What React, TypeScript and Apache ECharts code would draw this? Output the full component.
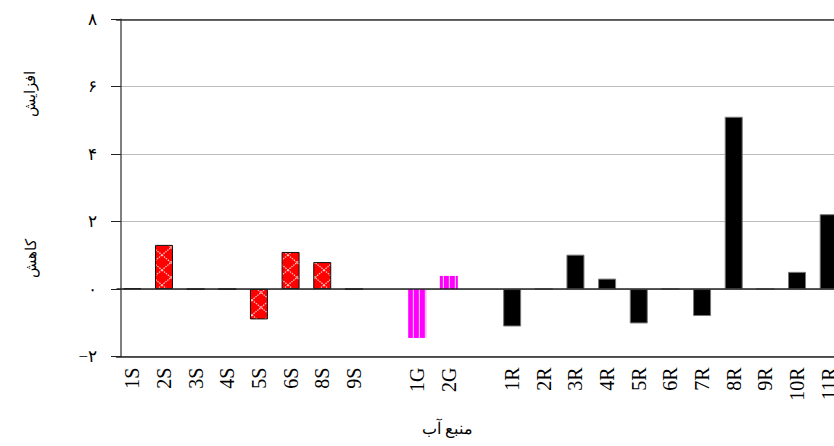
import React, { useEffect, useRef } from 'react';
import * as echarts from 'echarts';

// Water-source sites, grouped by source type
const surfaceSites = ['1S', '2S', '3S', '4S', '5S', '6S', '8S', '9S'];
const groundSites = ['1G', '2G'];
const riverSites = ['1R', '2R', '3R', '4R', '5R', '6R', '7R', '8R', '9R', '10R', '11R'];

// Change per site (positive = increase, negative = decrease)
const surfaceChange = [0.02, 1.31, 0, 0, -0.9, 1.1, 0.8, 0];
const groundChange = [-1.45, 0.39];
const riverChange = [-1.11, 0, 1.02, 0.31, -1.02, 0, -0.8, 5.11, 0, 0.51, 2.22];

// Value axis range and step
const yMin = -2;
const yMax = 8;
const yStep = 2;

const xTitle = 'منبع آب';
const increaseTitle = 'افزایش';
const decreaseTitle = 'کاهش';

// Empty slots separate the three groups along the axis
const categories = [...surfaceSites, ' ', ...groundSites, '  ', ...riverSites];
const groundOffset = surfaceSites.length + 1;
const riverOffset = groundOffset + groundSites.length + 1;

function column(values: number[], offset: number) {
  return categories.map((_, i) => {
    const k = i - offset;
    return k >= 0 && k < values.length ? values[k] : null;
  });
}

const faDigits = '۰۱۲۳۴۵۶۷۸۹';
function toPersian(v: number) {
  return String(v)
    .replace('-', '−')
    .replace(/\d/g, (d) => faDigits[Number(d)]);
}

const serif = '"Liberation Serif", "DejaVu Serif", serif';

function diamondPattern() {
  const w = 18;
  const h = 15;
  const c = document.createElement('canvas');
  c.width = w;
  c.height = h;
  const g = c.getContext('2d')!;
  g.fillStyle = '#ff0000';
  g.fillRect(0, 0, w, h);
  g.strokeStyle = '#ffd2d2';
  g.lineWidth = 1.2;
  g.setLineDash([1.5, 1]);
  g.beginPath();
  g.moveTo(0, 0);
  g.lineTo(w, h);
  g.moveTo(w, 0);
  g.lineTo(0, h);
  g.stroke();
  return { image: c, repeat: 'repeat', imageWidth: w, imageHeight: h };
}

function stripePattern() {
  const w = 6;
  const h = 6;
  const c = document.createElement('canvas');
  c.width = w;
  c.height = h;
  const g = c.getContext('2d')!;
  g.fillStyle = '#ff00ff';
  g.fillRect(0, 0, w, h);
  g.fillStyle = '#ffb8ff';
  g.fillRect(4.8, 0, 1.2, h);
  return { image: c, repeat: 'repeat', imageWidth: w, imageHeight: h };
}

export default function App() {
  const ref = useRef<HTMLDivElement>(null);

  useEffect(() => {
    if (!ref.current) return;
    const chart = echarts.init(ref.current, undefined, { renderer: 'svg' });

    chart.setOption({
      animation: false,
      backgroundColor: '#fff',
      grid: {
        left: 116.5,
        top: 19.3,
        width: 728,
        height: 337.2,
        containLabel: false,
        outerBoundsMode: 'none',
      },
      xAxis: [
        {
          type: 'category',
          data: categories,
          position: 'bottom',
          axisLine: { onZero: false, lineStyle: { color: '#222', width: 1.5 } },
          axisTick: { show: false },
          splitLine: { show: false },
          axisLabel: {
            interval: 0,
            rotate: 90,
            margin: 11,
            padding: [9, 0, 0, 0],
            color: '#000',
            fontSize: 20,
            fontFamily: serif,
            hideOverlap: false,
          },
        },
        {
          type: 'category',
          data: categories,
          position: 'top',
          axisLine: { onZero: false, lineStyle: { color: '#333', width: 1.5 } },
          axisTick: { show: false },
          axisLabel: { show: false },
          splitLine: { show: false },
        },
      ],
      yAxis: {
        type: 'value',
        min: yMin,
        max: yMax,
        interval: yStep,
        offset: -4.5,
        axisLine: { show: true, lineStyle: { color: '#555', width: 1.5 } },
        axisTick: { show: true, length: 10, lineStyle: { color: '#222', width: 1 } },
        axisLabel: {
          margin: 24,
          color: '#000',
          fontSize: 17,
          fontFamily: serif,
          formatter: (v: number) => toPersian(v),
        },
        splitLine: { show: true, lineStyle: { type: 'dotted', color: '#777', width: 1 } },
      },
      series: [
        {
          name: 'S',
          type: 'bar',
          stack: 'site',
          barWidth: 18,
          data: column(surfaceChange, 0),
          itemStyle: { color: diamondPattern(), borderColor: '#111', borderWidth: 1 },
        },
        {
          name: 'G',
          type: 'bar',
          stack: 'site',
          barWidth: 18,
          data: column(groundChange, groundOffset),
          itemStyle: { color: stripePattern(), borderWidth: 0 },
        },
        {
          name: 'R',
          type: 'bar',
          stack: 'site',
          barWidth: 18,
          data: column(riverChange, riverOffset),
          itemStyle: { color: '#000', borderColor: '#777', borderWidth: 1 },
          markLine: {
            silent: true,
            symbol: 'none',
            label: { show: false },
            lineStyle: { color: '#222', width: 1.5, type: 'solid' },
            data: [{ yAxis: 0 }],
          },
        },
      ],
      graphic: [
        {
          type: 'text',
          x: 447,
          y: 428,
          style: {
            text: xTitle,
            align: 'center',
            verticalAlign: 'middle',
            font: `16px ${serif}`,
            fill: '#000',
          },
        },
        {
          type: 'text',
          x: 30,
          y: 94,
          rotation: Math.PI / 2,
          style: {
            text: increaseTitle,
            align: 'center',
            verticalAlign: 'middle',
            font: `15px ${serif}`,
            fill: '#000',
          },
        },
        {
          type: 'text',
          x: 31,
          y: 258,
          rotation: Math.PI / 2,
          style: {
            text: decreaseTitle,
            align: 'center',
            verticalAlign: 'middle',
            font: `15px ${serif}`,
            fill: '#000',
          },
        },
      ],
    });

    return () => chart.dispose();
  }, []);

  return (
    <div
      ref={ref}
      style={{ position: 'absolute', left: 0, top: 0, width: 834, height: 446 }}
    />
  );
}
